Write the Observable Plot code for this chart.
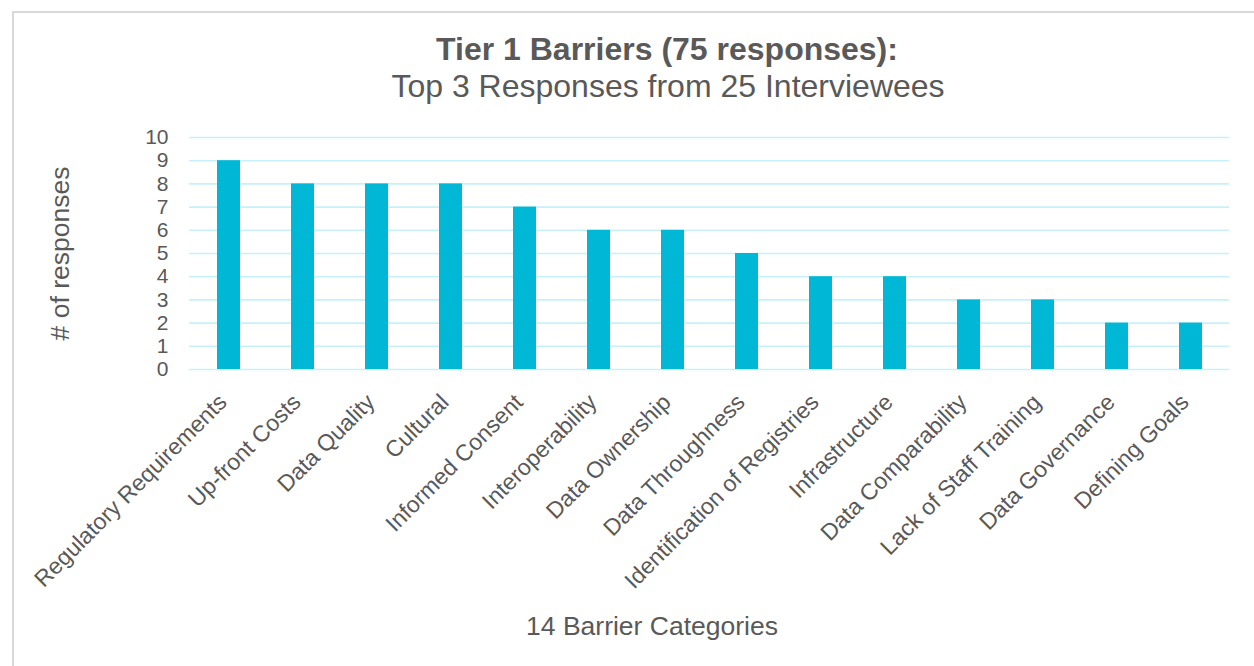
<!DOCTYPE html>
<html>
<head>
<meta charset="utf-8">
<script src="https://cdn.jsdelivr.net/npm/d3@7"></script>
<script src="https://cdn.jsdelivr.net/npm/@observablehq/plot@0.6"></script>
<style>
  html, body { margin: 0; padding: 0; background: #fff; }
  body { width: 1254px; height: 666px; overflow: hidden; position: relative; font-family: "Liberation Sans", Arial, sans-serif; color: #595959; }
  #frame { position: absolute; left: 12px; top: 11px; width: 1400px; height: 800px; border-top: 2px solid #d9d9d9; border-left: 2px solid #d9d9d9; }
  #title { position: absolute; left: 0; width: 1334px; top: 31px; text-align: center; font-size: 32px; font-weight: bold; line-height: 36px; white-space: nowrap; }
  #subtitle { position: absolute; left: 0; width: 1336px; top: 68px; text-align: center; font-size: 32px; line-height: 36px; white-space: nowrap; }
  #chart { position: absolute; left: 0; top: 110px; }
  #caption { position: absolute; left: 0; width: 1304px; top: 611px; text-align: center; font-size: 26.5px; line-height: 30px; white-space: nowrap; }
</style>
</head>
<body>
<div id="frame"></div>
<div id="title">Tier 1 Barriers (75 responses):</div>
<div id="subtitle">Top 3 Responses from 25 Interviewees</div>
<div id="chart"></div>
<div id="caption">14 Barrier Categories</div>
<script>
const categories = [
  "Regulatory Requirements", "Up-front Costs", "Data Quality", "Cultural",
  "Informed Consent", "Interoperability", "Data Ownership", "Data Throughness",
  "Identification of Registries", "Infrastructure", "Data Comparability",
  "Lack of Staff Training", "Data Governance", "Defining Goals"
];
const responses = [9, 8, 8, 8, 7, 6, 6, 5, 4, 4, 3, 3, 2, 2];
const yTicks = [0, 1, 2, 3, 4, 5, 6, 7, 8, 9, 10];

const data = categories.map((c, i) => ({category: c, value: responses[i]}));

const chart = Plot.plot({
  width: 1254,
  height: 490,
  marginLeft: 189,
  marginRight: 25,
  marginTop: 27,
  marginBottom: 231,
  style: {fontFamily: "'Liberation Sans', Arial, sans-serif", color: "#595959", background: "transparent", overflow: "visible"},
  x: {domain: categories, paddingInner: 0.69, paddingOuter: 0.345},
  y: {domain: [0, 10]},
  marks: [
    Plot.gridY(yTicks, {stroke: "#c6f1fa", strokeOpacity: 1, strokeWidth: 1.6}),
    Plot.barY(data, {x: "category", y: "value", fill: "#00b7d6"}),
    Plot.axisY({ticks: yTicks, tickSize: 0, tickPadding: 21, fontSize: 21, label: "# of responses", labelAnchor: "center", labelOffset: 139, labelArrow: "none"}),
    Plot.axisX({tickSize: 0, tickPadding: 29, dx: -6, tickRotate: -45, fontSize: 23, label: null})
  ]
});
document.getElementById("chart").appendChild(chart);
chart.querySelectorAll("g[aria-label='y-axis label'] text").forEach(t => t.setAttribute("font-size", 26.5));
</script>
</body>
</html>
